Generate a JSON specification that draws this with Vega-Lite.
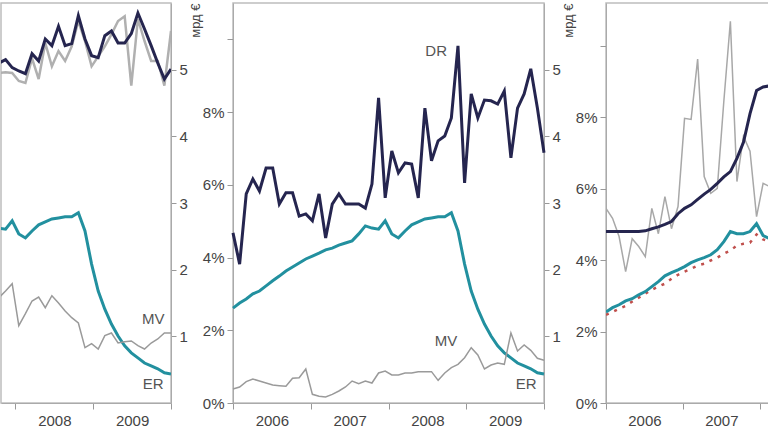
{
  "$schema": "https://vega.github.io/schema/vega-lite/v6.json",
  "padding": {"left": 0, "top": 2, "right": 0, "bottom": 0},
  "background": "white",
  "config": {
    "font": "Liberation Sans",
    "view": {"stroke": "#bdbdbd", "strokeWidth": 1.5},
    "axis": {"labelColor": "#444", "labelFontSize": 15, "domainColor": "#aaa", "tickColor": "#999", "grid": false, "labelOverlap": false, "labelFlush": false, "labelBound": false}
  },
  "datasets": {
    "er": [{"m":0,"v":2.61},{"m":1,"v":2.75},{"m":2,"v":2.86},{"m":3,"v":3.0},{"m":4,"v":3.08},{"m":5,"v":3.22},{"m":6,"v":3.36},{"m":7,"v":3.49},{"m":8,"v":3.63},{"m":9,"v":3.74},{"m":10,"v":3.85},{"m":11,"v":3.96},{"m":12,"v":4.04},{"m":13,"v":4.12},{"m":14,"v":4.21},{"m":15,"v":4.26},{"m":16,"v":4.34},{"m":17,"v":4.4},{"m":18,"v":4.46},{"m":19,"v":4.65},{"m":20,"v":4.87},{"m":21,"v":4.81},{"m":22,"v":4.78},{"m":23,"v":5.01},{"m":24,"v":4.65},{"m":25,"v":4.54},{"m":26,"v":4.73},{"m":27,"v":4.9},{"m":28,"v":4.98},{"m":29,"v":5.06},{"m":30,"v":5.09},{"m":31,"v":5.12},{"m":32,"v":5.12},{"m":33,"v":5.23},{"m":34,"v":4.73},{"m":35,"v":3.82},{"m":36,"v":3.08},{"m":37,"v":2.58},{"m":38,"v":2.17},{"m":39,"v":1.84},{"m":40,"v":1.57},{"m":41,"v":1.38},{"m":42,"v":1.24},{"m":43,"v":1.1},{"m":44,"v":1.02},{"m":45,"v":0.94},{"m":46,"v":0.83},{"m":47,"v":0.8}],
    "dr": [{"m":0,"v":4.68},{"m":1,"v":3.82},{"m":2,"v":5.75},{"m":3,"v":6.16},{"m":4,"v":5.83},{"m":5,"v":6.46},{"m":6,"v":6.46},{"m":7,"v":5.47},{"m":8,"v":5.78},{"m":9,"v":5.78},{"m":10,"v":5.14},{"m":11,"v":5.2},{"m":12,"v":5.01},{"m":13,"v":5.75},{"m":14,"v":4.54},{"m":15,"v":5.47},{"m":16,"v":5.75},{"m":17,"v":5.47},{"m":18,"v":5.47},{"m":19,"v":5.47},{"m":20,"v":5.36},{"m":21,"v":6.02},{"m":22,"v":8.39},{"m":23,"v":5.64},{"m":24,"v":6.93},{"m":25,"v":6.33},{"m":26,"v":6.6},{"m":27,"v":6.57},{"m":28,"v":5.64},{"m":29,"v":8.11},{"m":30,"v":6.66},{"m":31,"v":7.21},{"m":32,"v":7.34},{"m":33,"v":7.84},{"m":34,"v":9.82},{"m":35,"v":6.05},{"m":36,"v":8.5},{"m":37,"v":7.84},{"m":38,"v":8.33},{"m":39,"v":8.31},{"m":40,"v":8.22},{"m":41,"v":8.58},{"m":42,"v":6.74},{"m":43,"v":8.11},{"m":44,"v":8.5},{"m":45,"v":9.19},{"m":46,"v":8.11},{"m":47,"v":6.88}],
    "mv2": [{"m":0,"v":0.21},{"m":1,"v":0.24},{"m":2,"v":0.32},{"m":3,"v":0.36},{"m":4,"v":0.33},{"m":5,"v":0.3},{"m":6,"v":0.27},{"m":7,"v":0.26},{"m":8,"v":0.25},{"m":9,"v":0.37},{"m":10,"v":0.38},{"m":11,"v":0.51},{"m":12,"v":0.13},{"m":13,"v":0.1},{"m":14,"v":0.09},{"m":15,"v":0.13},{"m":16,"v":0.18},{"m":17,"v":0.24},{"m":18,"v":0.33},{"m":19,"v":0.29},{"m":20,"v":0.33},{"m":21,"v":0.3},{"m":22,"v":0.45},{"m":23,"v":0.48},{"m":24,"v":0.42},{"m":25,"v":0.42},{"m":26,"v":0.45},{"m":27,"v":0.45},{"m":28,"v":0.47},{"m":29,"v":0.47},{"m":30,"v":0.47},{"m":31,"v":0.34},{"m":32,"v":0.45},{"m":33,"v":0.53},{"m":34,"v":0.58},{"m":35,"v":0.68},{"m":36,"v":0.83},{"m":37,"v":0.72},{"m":38,"v":0.51},{"m":39,"v":0.57},{"m":40,"v":0.6},{"m":41,"v":0.58},{"m":42,"v":1.05},{"m":43,"v":0.78},{"m":44,"v":0.87},{"m":45,"v":0.79},{"m":46,"v":0.67},{"m":47,"v":0.64}],
    "mv1": [{"m":21,"v":1.58},{"m":22,"v":1.68},{"m":23,"v":1.79},{"m":24,"v":1.16},{"m":25,"v":1.34},{"m":26,"v":1.53},{"m":27,"v":1.59},{"m":28,"v":1.43},{"m":29,"v":1.61},{"m":30,"v":1.5},{"m":31,"v":1.38},{"m":32,"v":1.28},{"m":33,"v":1.2},{"m":34,"v":0.83},{"m":35,"v":0.89},{"m":36,"v":0.81},{"m":37,"v":1.01},{"m":38,"v":1.05},{"m":39,"v":0.9},{"m":40,"v":0.92},{"m":41,"v":0.93},{"m":42,"v":0.86},{"m":43,"v":0.81},{"m":44,"v":0.9},{"m":45,"v":0.96},{"m":46,"v":1.05},{"m":47,"v":1.05}],
    "top1dark": [{"m":21,"v":5.1},{"m":22,"v":5.15},{"m":23,"v":5.03},{"m":24,"v":4.98},{"m":25,"v":4.94},{"m":26,"v":5.24},{"m":27,"v":5.13},{"m":28,"v":5.46},{"m":29,"v":5.36},{"m":30,"v":5.65},{"m":31,"v":5.36},{"m":32,"v":5.39},{"m":33,"v":5.81},{"m":34,"v":5.46},{"m":35,"v":5.21},{"m":36,"v":5.18},{"m":37,"v":5.51},{"m":38,"v":5.58},{"m":39,"v":5.4},{"m":40,"v":5.4},{"m":41,"v":5.54},{"m":42,"v":5.85},{"m":43,"v":5.61},{"m":44,"v":5.36},{"m":45,"v":5.1},{"m":46,"v":4.86},{"m":47,"v":5.01}],
    "top1gray": [{"m":21,"v":4.95},{"m":22,"v":4.96},{"m":23,"v":4.95},{"m":24,"v":4.83},{"m":25,"v":4.8},{"m":26,"v":5.17},{"m":27,"v":4.86},{"m":28,"v":5.4},{"m":29,"v":5.05},{"m":30,"v":5.28},{"m":31,"v":5.13},{"m":32,"v":5.35},{"m":33,"v":5.73},{"m":34,"v":5.43},{"m":35,"v":5.05},{"m":36,"v":5.2},{"m":37,"v":5.35},{"m":38,"v":5.53},{"m":39,"v":5.73},{"m":40,"v":5.8},{"m":41,"v":4.76},{"m":42,"v":5.76},{"m":43,"v":5.43},{"m":44,"v":5.13},{"m":45,"v":5.13},{"m":46,"v":4.76},{"m":47,"v":5.58}],
    "p3navy": [{"m":0,"v":4.8},{"m":1,"v":4.8},{"m":2,"v":4.8},{"m":3,"v":4.8},{"m":4,"v":4.8},{"m":5,"v":4.8},{"m":6,"v":4.82},{"m":7,"v":4.88},{"m":8,"v":4.93},{"m":9,"v":5.0},{"m":10,"v":5.08},{"m":11,"v":5.3},{"m":12,"v":5.45},{"m":13,"v":5.55},{"m":14,"v":5.7},{"m":15,"v":5.85},{"m":16,"v":5.98},{"m":17,"v":6.15},{"m":18,"v":6.33},{"m":19,"v":6.48},{"m":20,"v":6.85},{"m":21,"v":7.3},{"m":22,"v":8.1},{"m":23,"v":8.75},{"m":24,"v":8.85},{"m":25,"v":8.88}],
    "p3gray": [{"m":0,"v":5.45},{"m":1,"v":5.17},{"m":2,"v":4.66},{"m":3,"v":3.68},{"m":4,"v":4.6},{"m":5,"v":4.38},{"m":6,"v":4.1},{"m":7,"v":5.45},{"m":8,"v":4.74},{"m":9,"v":5.78},{"m":10,"v":4.88},{"m":11,"v":5.5},{"m":12,"v":7.97},{"m":13,"v":7.94},{"m":14,"v":9.63},{"m":15,"v":6.34},{"m":16,"v":5.87},{"m":17,"v":6.01},{"m":18,"v":8.45},{"m":19,"v":10.69},{"m":20,"v":6.2},{"m":21,"v":7.47},{"m":22,"v":7.05},{"m":23,"v":5.22},{"m":24,"v":6.15},{"m":25,"v":6.06}],
    "p3teal": [{"m":0,"v":2.55},{"m":1,"v":2.67},{"m":2,"v":2.75},{"m":3,"v":2.86},{"m":4,"v":2.92},{"m":5,"v":3.03},{"m":6,"v":3.12},{"m":7,"v":3.26},{"m":8,"v":3.4},{"m":9,"v":3.56},{"m":10,"v":3.65},{"m":11,"v":3.73},{"m":12,"v":3.82},{"m":13,"v":3.93},{"m":14,"v":4.01},{"m":15,"v":4.07},{"m":16,"v":4.15},{"m":17,"v":4.29},{"m":18,"v":4.52},{"m":19,"v":4.8},{"m":20,"v":4.74},{"m":21,"v":4.74},{"m":22,"v":4.8},{"m":23,"v":5.02},{"m":24,"v":4.69},{"m":25,"v":4.6}],
    "p3red": [{"m":0,"v":2.47},{"m":1,"v":2.55},{"m":2,"v":2.64},{"m":3,"v":2.72},{"m":4,"v":2.84},{"m":5,"v":2.95},{"m":6,"v":3.06},{"m":7,"v":3.17},{"m":8,"v":3.26},{"m":9,"v":3.34},{"m":10,"v":3.48},{"m":11,"v":3.59},{"m":12,"v":3.68},{"m":13,"v":3.76},{"m":14,"v":3.85},{"m":15,"v":3.9},{"m":16,"v":3.99},{"m":17,"v":4.07},{"m":18,"v":4.18},{"m":19,"v":4.27},{"m":20,"v":4.41},{"m":21,"v":4.46},{"m":22,"v":4.49},{"m":23,"v":4.72},{"m":24,"v":4.58},{"m":25,"v":4.52}],
    "lab1": [{"m":44.3,"v":1.26,"t":"MV"},{"m":44.3,"v":0.28,"t":"ER"}],
    "lab2L": [{"m":30.7,"v":9.68,"t":"DR"}],
    "lab2R": [{"m":32.2,"v":0.93,"t":"MV"},{"m":44.3,"v":0.28,"t":"ER"}]
  },
  "hconcat": [
    {
      "width": 170, "height": 400,
      "encoding": {
        "x": {"field": "m", "type": "quantitative", "scale": {"domain": [21.31, 47], "nice": false, "zero": false},
          "axis": {"title": null, "values": [23.5, 29.375, 35.25, 41.125, 47], "tickSize": 6, "labelPadding": 4,
            "labelExpr": "datum.value==5.875?'2006':datum.value==17.625?'2007':datum.value==29.375?'2008':datum.value==41.125?'2009':''",
            "tickOpacity": {"condition": {"test": "indexof([5.875,17.625,29.375,41.125], datum.value) >= 0", "value": 0}, "value": 1}}}
      },
      "layer": [
        {
          "encoding": {"y": {"field": "v", "type": "quantitative", "scale": {"domain": [0, 11], "nice": false}, "axis": null}},
          "layer": [
            {"data": {"name": "er"}, "mark": {"type": "line", "color": "#22909f", "strokeWidth": 3, "clip": true}}
          ]
        },
        {
          "encoding": {"y": {"field": "v", "type": "quantitative", "scale": {"domain": [0, 6], "nice": false},
            "axis": {"orient": "right", "values": [1, 2, 3, 4, 5], "tickSize": 5, "labelPadding": 3, "title": "мрд €", "titleAngle": 270, "titleAnchor": "end", "titleAlign": "right", "titleBaseline": "top", "titlePadding": 2, "titleFontSize": 13, "titleFontWeight": "normal", "titleColor": "#444"}}},
          "layer": [
            {"data": {"name": "mv1"}, "mark": {"type": "line", "color": "#9a9a9a", "strokeWidth": 1.5, "clip": true}},
            {"data": {"name": "top1gray"}, "mark": {"type": "line", "color": "#b0b0b0", "strokeWidth": 2.5, "clip": true}},
            {"data": {"name": "top1dark"}, "mark": {"type": "line", "color": "#25254f", "strokeWidth": 3, "clip": true}},
            {"data": {"name": "lab1"}, "mark": {"type": "text", "color": "#555", "fontSize": 15, "align": "center"}, "encoding": {"text": {"field": "t"}}}
          ]
        }
      ],
      "resolve": {"scale": {"y": "independent"}}
    },
    {
      "width": 311, "height": 400,
      "encoding": {
        "x": {"field": "m", "type": "quantitative", "scale": {"domain": [0, 47], "nice": false, "zero": false},
          "axis": {"title": null, "values": [0, 5.875, 11.75, 17.625, 23.5, 29.375, 35.25, 41.125, 47], "tickSize": 6, "labelPadding": 4,
            "labelExpr": "datum.value==5.875?'2006':datum.value==17.625?'2007':datum.value==29.375?'2008':datum.value==41.125?'2009':''",
            "tickOpacity": {"condition": {"test": "indexof([5.875,17.625,29.375,41.125], datum.value) >= 0", "value": 0}, "value": 1}}}
      },
      "layer": [
        {
          "encoding": {"y": {"field": "v", "type": "quantitative", "scale": {"domain": [0, 11], "nice": false},
            "axis": {"orient": "left", "values": [0, 2, 4, 6, 8, 10], "tickSize": 6, "labelPadding": 3, "title": null, "labelExpr": "datum.value==10?'':datum.value+'%'"}}},
          "layer": [
            {"data": {"name": "er"}, "mark": {"type": "line", "color": "#22909f", "strokeWidth": 3}},
            {"data": {"name": "dr"}, "mark": {"type": "line", "color": "#25254f", "strokeWidth": 3}},
            {"data": {"name": "lab2L"}, "mark": {"type": "text", "color": "#555", "fontSize": 15, "align": "center"}, "encoding": {"text": {"field": "t"}}}
          ]
        },
        {
          "encoding": {"y": {"field": "v", "type": "quantitative", "scale": {"domain": [0, 6], "nice": false},
            "axis": {"orient": "right", "values": [1, 2, 3, 4, 5], "tickSize": 5, "labelPadding": 3, "title": "мрд €", "titleAngle": 270, "titleAnchor": "end", "titleAlign": "right", "titleBaseline": "top", "titlePadding": 2, "titleFontSize": 13, "titleFontWeight": "normal", "titleColor": "#444"}}},
          "layer": [
            {"data": {"name": "mv2"}, "mark": {"type": "line", "color": "#9a9a9a", "strokeWidth": 1.5}},
            {"data": {"name": "lab2R"}, "mark": {"type": "text", "color": "#555", "fontSize": 15, "align": "center"}, "encoding": {"text": {"field": "t"}}}
          ]
        }
      ],
      "resolve": {"scale": {"y": "independent"}}
    },
    {
      "width": 163, "height": 400,
      "encoding": {
        "x": {"field": "m", "type": "quantitative", "scale": {"domain": [0, 24.9], "nice": false, "zero": false},
          "axis": {"title": null, "values": [0, 5.875, 11.75, 17.625, 23.5], "tickSize": 6, "labelPadding": 4,
            "labelExpr": "datum.value==5.875?'2006':datum.value==17.625?'2007':datum.value==29.375?'2008':datum.value==41.125?'2009':''",
            "tickOpacity": {"condition": {"test": "indexof([5.875,17.625,29.375,41.125], datum.value) >= 0", "value": 0}, "value": 1}}},
        "y": {"field": "v", "type": "quantitative", "scale": {"domain": [0, 11.2], "nice": false},
          "axis": {"orient": "left", "values": [0, 2, 4, 6, 8, 10], "tickSize": 6, "labelPadding": 3, "title": null, "labelExpr": "datum.value==10?'':datum.value+'%'"}}
      },
      "layer": [
        {"data": {"name": "p3gray"}, "mark": {"type": "line", "color": "#a8a8a8", "strokeWidth": 1.5, "clip": true}},
        {"data": {"name": "p3red"}, "mark": {"type": "line", "color": "#c0504d", "strokeWidth": 2.5, "strokeDash": [3, 6], "clip": true}},
        {"data": {"name": "p3teal"}, "mark": {"type": "line", "color": "#22909f", "strokeWidth": 3, "clip": true}},
        {"data": {"name": "p3navy"}, "mark": {"type": "line", "color": "#25254f", "strokeWidth": 3, "clip": true}}
      ]
    }
  ],
  "spacing": 62,
  "bounds": "flush"
}
